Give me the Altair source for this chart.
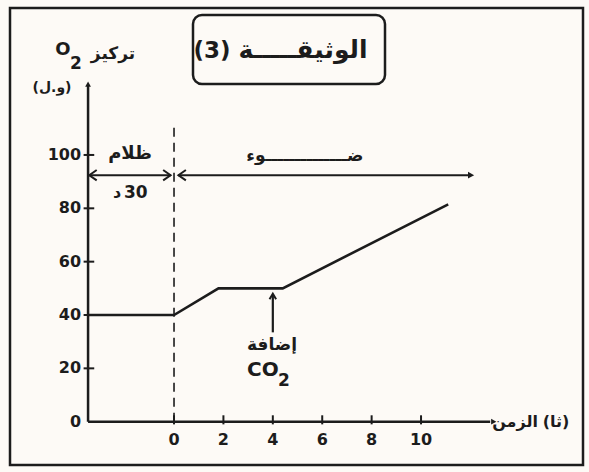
import altair as alt
import pandas as pd

# O2 concentration (arbitrary units) against time; the first point sits on the
# vertical axis, i.e. the start of the 30-min dark period drawn before t = 0.
time_points = [-3.48, 0.0, 1.8, 4.4, 11.1]
o2_values = [40, 40, 50, 50, 81.5]

y_tick_values = [0, 20, 40, 60, 80, 100]
x_tick_values = [0, 2, 4, 6, 8, 10]

W, H = 589, 472
FONT_NUM = "DejaVu Sans"
FONT_AR = "DejaVu Sans"
INK = "#1c1c1c"

xs = alt.Scale(domain=[-7.045, 16.80], nice=False, zero=False)
ys = alt.Scale(domain=[-18.86, 158.1], nice=False, zero=False)

X0 = time_points[0]          # position of the vertical axis
X_END = 12.8                 # end of the horizontal axis arrow
Y_END = 126                  # end of the vertical axis arrow
PHASE_Y = 92.4               # level of the dark / light arrows


def enc_xy(chart, x="x", y="y"):
    return chart.encode(
        x=alt.X(f"{x}:Q", scale=xs, axis=None),
        y=alt.Y(f"{y}:Q", scale=ys, axis=None),
    )


def segments(rows, **style):
    df = pd.DataFrame(rows, columns=["x", "y", "x2", "y2"])
    return alt.Chart(df).mark_rule(color=INK, **style).encode(
        x=alt.X("x:Q", scale=xs, axis=None),
        y=alt.Y("y:Q", scale=ys, axis=None),
        x2="x2:Q",
        y2="y2:Q",
    )


def head(x, y, path, filled, size):
    df = pd.DataFrame({"x": [x], "y": [y]})
    mark = alt.Chart(df).mark_point(
        shape=path, filled=filled, size=size, color=INK,
        strokeWidth=2, opacity=1,
    )
    return enc_xy(mark)


def label(text, x, y, size, font=FONT_AR, **kw):
    df = pd.DataFrame({"x": [x], "y": [y], "t": [text]})
    mark = alt.Chart(df).mark_text(
        font=font, fontSize=size, fontWeight="bold", color=INK, **kw
    )
    return enc_xy(mark).encode(text="t:N")


def plabel(text, px, py, size, font=FONT_AR, **kw):
    df = pd.DataFrame({"t": [text]})
    return alt.Chart(df).mark_text(
        font=font, fontSize=size, fontWeight="bold", color=INK, **kw
    ).encode(x=alt.value(px), y=alt.value(py), text="t:N")


# arrowhead shapes (tip at the anchor point)
LEFT_OPEN = "M1,-0.7L0,0L1,0.7"
RIGHT_OPEN = "M-1,-0.7L0,0L-1,0.7"
RIGHT_FILL = "M-1,-0.55L0,0L-1,0.55Z"
UP_FILL = "M-0.55,1L0,0L0.55,1Z"
UP_OPEN = "M-0.6,1L0,0L0.6,1"

# frame and title box
frame = alt.Chart(pd.DataFrame({"k": [0]})).mark_rect(
    fillOpacity=0, stroke=INK, strokeWidth=2.5
).encode(x=alt.value(10), x2=alt.value(583), y=alt.value(8), y2=alt.value(465))

title_box = alt.Chart(pd.DataFrame({"k": [0]})).mark_rect(
    fillOpacity=0, stroke=INK, strokeWidth=2.5, cornerRadius=9
).encode(x=alt.value(193), x2=alt.value(385), y=alt.value(15), y2=alt.value(84))

title = plabel("الوثيقـــــة", 303, 50, 25, baseline="middle") + plabel(
    "(3)", 212, 51, 23, font=FONT_NUM, baseline="middle"
)

# axes
axes = segments(
    [[X0, 0, X_END, 0], [X0, 0, X0, Y_END]], strokeWidth=2.5
)
axis_heads = head(X_END + 0.25, 0, RIGHT_FILL, True, 110) + head(
    X0, Y_END + 1.5, UP_FILL, True, 110
)

y_ticks = segments([[X0 - 0.18, v, X0 + 0.25, v] for v in y_tick_values if v > 0],
                   strokeWidth=2)
x_ticks = segments([[v, -1.0, v, 2.4] for v in x_tick_values], strokeWidth=2)

ytick_df = pd.DataFrame({"v": y_tick_values, "t": [str(v) for v in y_tick_values]})
y_labels = alt.Chart(ytick_df).mark_text(
    font=FONT_NUM, fontSize=16, fontWeight="bold", color=INK,
    align="right", baseline="middle", dx=-7,
).encode(
    x=alt.datum(X0, scale=xs, axis=None),
    y=alt.Y("v:Q", scale=ys, axis=None),
    text="t:N",
)

xtick_df = pd.DataFrame({"v": x_tick_values, "t": [str(v) for v in x_tick_values]})
x_labels = alt.Chart(xtick_df).mark_text(
    font=FONT_NUM, fontSize=16, fontWeight="bold", color=INK,
    align="center", baseline="middle", dy=18,
).encode(
    x=alt.X("v:Q", scale=xs, axis=None),
    y=alt.datum(0, scale=ys, axis=None),
    text="t:N",
)

# axis titles
y_title = (
    plabel("O", 63, 50, 18, font=FONT_NUM, baseline="middle")
    + plabel("2", 76, 64, 17, font=FONT_NUM, baseline="middle")
    + plabel("تركيز", 113, 54, 17, baseline="middle")
    + plabel("(و.ل)", 52, 88, 14, baseline="middle")
)
x_title = plabel("الزمن", 515, 422, 16, baseline="middle") + plabel(
    "(ثا)", 556, 422, 16, baseline="middle"
)

# light on at t = 0
dashed = segments([[0, 0, 0, 111]], strokeWidth=1.6, strokeDash=[9, 6])

# dark / light period arrows
phase = segments(
    [[X0, PHASE_Y, -0.12, PHASE_Y], [0.16, PHASE_Y, 12.0, PHASE_Y]],
    strokeWidth=2,
)
phase_heads = (
    head(X0 + 0.05, PHASE_Y, LEFT_OPEN, False, 220)
    + head(-0.14, PHASE_Y, RIGHT_OPEN, False, 220)
    + head(0.18, PHASE_Y, LEFT_OPEN, False, 220)
    + head(12.15, PHASE_Y, RIGHT_FILL, True, 150)
)
phase_labels = (
    label("ظلام", -1.78, 100.5, 18, baseline="middle")
    + label("د", -2.3, 85.7, 16, baseline="middle")
    + label("30", -1.55, 85.7, 17, font=FONT_NUM, baseline="middle")
    + label("ضــــــــــــــوء", 5.3, 99.5, 17, baseline="middle")
)

# CO2 addition marker
co2_arrow = segments([[4.0, 33.5, 4.0, 47.5]], strokeWidth=2.2)
co2_head = head(4.0, 48.0, UP_OPEN, False, 120)
co2_labels = (
    label("إضافة", 3.97, 28.8, 17, baseline="middle")
    + label("CO", 3.6, 19.4, 20, font=FONT_NUM, baseline="middle")
    + label("2", 4.45, 15.4, 17, font=FONT_NUM, baseline="middle")
)

# O2 curve
curve_df = pd.DataFrame({"t": time_points, "o2": o2_values})
curve = alt.Chart(curve_df).mark_line(color=INK, strokeWidth=2.6).encode(
    x=alt.X("t:Q", scale=xs, axis=None),
    y=alt.Y("o2:Q", scale=ys, axis=None),
    order="t:Q",
)

chart = alt.layer(
    frame, title_box, title,
    dashed, axes, axis_heads, y_ticks, x_ticks, y_labels, x_labels,
    y_title, x_title,
    phase, phase_heads, phase_labels,
    co2_arrow, co2_head, co2_labels,
    curve,
).properties(
    width=W, height=H, autosize="none", padding=0, background="#fdfaf6"
).configure_view(strokeWidth=0)

chart.save("out.html", embed_options={"renderer": "svg", "actions": False})
